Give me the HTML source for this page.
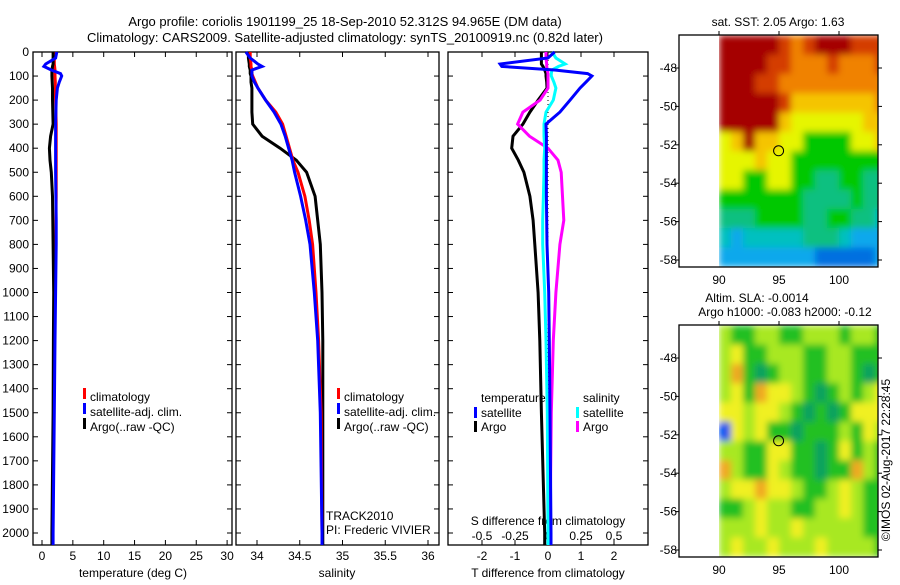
<!DOCTYPE html>
<html><head><meta charset="utf-8"><style>
body{margin:0;background:#fff}
svg{font-family:"Liberation Sans",sans-serif;font-size:12px}
</style></head><body>
<svg id="fig" width="900" height="580" viewBox="0 0 900 580">
<defs>
<filter id="blur1" filterUnits="userSpaceOnUse" x="719" y="35" width="159" height="232"><feGaussianBlur stdDeviation="3.5" edgeMode="duplicate"/></filter>
<filter id="blur2" filterUnits="userSpaceOnUse" x="719" y="325" width="159" height="232"><feGaussianBlur stdDeviation="3.5" edgeMode="duplicate"/></filter>
<clipPath id="clip1"><rect x="719" y="35" width="159" height="232"/></clipPath>
<clipPath id="clip2"><rect x="719" y="325" width="159" height="232"/></clipPath>
</defs>
<rect width="900" height="580" fill="#fff"/>
<text x="345" y="26" text-anchor="middle" font-size="13">Argo profile: coriolis 1901199_25 18-Sep-2010 52.312S 94.965E (DM data)</text>
<text x="345" y="42" text-anchor="middle" font-size="13">Climatology: CARS2009. Satellite-adjusted climatology: synTS_20100919.nc (0.82d later)</text>
<g id="maps"></g>
<g id="panels"></g>
</svg>
<script>
// ---- profile data ----
const depths = [0,25,50,60,75,90,100,125,150,200,250,300,350,400,450,500,600,700,800,1000,1200,1500,2000,2050];
const tempClim = [2.0,2.0,2.0,2.05,2.1,2.1,2.1,2.15,2.15,2.2,2.25,2.3,2.3,2.3,2.3,2.3,2.3,2.25,2.2,2.1,2.0,1.9,1.7,1.7];
const tempSat  = [2.4,2.2,0.6,0.3,1.5,3.0,3.2,2.8,2.5,2.3,2.25,2.2,2.2,2.2,2.2,2.2,2.25,2.3,2.3,2.2,2.1,2.0,1.8,1.8];
const tempArgo = [1.8,1.8,1.8,1.7,1.6,1.6,1.6,1.65,1.7,1.7,1.75,1.8,1.4,1.2,1.3,1.5,1.7,1.75,1.8,1.9,1.85,1.8,1.6,1.6];
const salClim = [33.92,33.92,33.93,33.93,33.94,33.94,33.95,33.98,34.01,34.1,34.22,34.3,34.34,34.38,34.42,34.48,34.56,34.61,34.65,34.69,34.72,34.75,34.76,34.76];
const salSat  = [33.87,33.92,34.01,34.06,33.94,33.94,33.94,33.97,34.01,34.1,34.2,34.28,34.33,34.37,34.41,34.44,34.51,34.57,34.62,34.67,34.71,34.74,34.76,34.76];
const salArgo = [33.9,33.9,33.91,33.91,33.92,33.92,33.93,33.93,33.94,33.94,33.94,33.95,34.06,34.27,34.46,34.58,34.68,34.71,34.74,34.76,34.77,34.77,34.77,34.77];
const dTsat  = [0.2,0,-1.45,-1.4,0.2,1.2,1.33,1.15,0.97,0.67,0.36,-0.06,-0.05,-0.05,-0.05,-0.05,-0.05,-0.04,-0.03,0.02,0.04,0.06,0.09,0.09];
const dTargo = [-0.2,-0.2,-0.2,-0.15,-0.1,-0.06,-0.06,-0.04,-0.03,-0.3,-0.55,-0.76,-1.06,-1.1,-0.9,-0.73,-0.55,-0.45,-0.4,-0.3,-0.25,-0.2,-0.1,-0.1];
const dSsat  = [0.03,0.06,0.13,0.08,0.03,0.025,0.025,0.045,0.06,0.04,-0.015,-0.03,-0.03,-0.025,-0.03,-0.03,-0.035,-0.04,-0.04,-0.025,-0.015,-0.005,0,0];
const dSargo = [-0.015,-0.015,-0.01,-0.01,-0.005,0,0,0,0,-0.06,-0.19,-0.23,-0.14,0,0.076,0.1,0.11,0.12,0.09,0.06,0.04,0.025,0.015,0.015];
const depthTicks = [0,100,200,300,400,500,600,700,800,900,1000,1100,1200,1300,1400,1500,1600,1700,1800,1900,2000];
const tempTicks = [0,5,10,15,20,25,30];
const salTicks = [34,34.5,35,35.5,36];
const salTickLabels = ["34","34.5","35","35.5","36"];
const dTTicks = [-2,-1,0,1,2];
const dSTicks = [-0.5,-0.25,0,0.25,0.5];
const dSTickLabels = ["-0.5","-0.25","0","0.25","0.5"];

// ---- map data ----
const sstGrid = [
"00000121000111","00001122212221","00011222222222","00000133333332",
"00000344444433","43033445555443","44434455555555","44554455665566",
"55555556666566","66655556655667","78777776667888","88888888999998"];
const sstColors = ["#a50000","#d43c00","#f08200","#f5c400","#e6f500","#00c800","#10c080","#00c0c0","#10a8ec","#0070e0"];
const slaGrid = [
"10011001110110","12001110011000","13040110011040","12032210401012",
"22122104040222","52120040001021","11002200402010","31002100400310",
"12232210012100","00121100112100","11121121111100","12112111211110"];
const slaColors = ["#20c020","#a8e820","#f0f020","#f0a820","#10a060","#0050f0"];
const lonTicks = [90,95,100];
const latTicks = [48,50,52,54,56,58];

const NS="http://www.w3.org/2000/svg";
function el(tag, attrs, parent){const e=document.createElementNS(NS,tag);for(const k in attrs)e.setAttribute(k,attrs[k]);parent.appendChild(e);return e;}
const panels=document.getElementById('panels');
const yTop=52,yBot=545;
const yD=d=>yTop+d*0.2405;

function frame(x0,x1,name){
  const g=el('g',{},panels);
  
  
  el('rect',{x:x0,y:yTop,width:x1-x0,height:yBot-yTop,fill:'none',stroke:'#000','stroke-width':1.3},g);
  depthTicks.forEach(d=>{
    el('line',{x1:x0,x2:x0+5,y1:yD(d),y2:yD(d),stroke:'#000'},g);
    el('line',{x1:x1,x2:x1-5,y1:yD(d),y2:yD(d),stroke:'#000'},g);
  });
  return g;
}
function series(g,xs,fx,color,name){
  const p=depths.map((d,i)=>fx(xs[i]).toFixed(1)+','+yD(d).toFixed(1)).join(' ');
  const l=el('polyline',{points:p,fill:'none',stroke:color,'stroke-width':3},g);
  
  
}
function xticks(g,ticks,labels,fx,y){
  ticks.forEach((t,i)=>{
    el('line',{x1:fx(t),x2:fx(t),y1:yBot,y2:yBot-5,stroke:'#000'},g);
    el('line',{x1:fx(t),x2:fx(t),y1:yTop,y2:yTop+5,stroke:'#000'},g);
    const tx=el('text',{x:fx(t),y:y,'text-anchor':'middle'},g);tx.textContent=labels[i];
  });
}
function txt(g,x,y,s,name,anchor){const t=el('text',{x:x,y:y,'text-anchor':anchor||'start'},g);t.textContent=s;return t;}
function legend(g,x,items){
  items.forEach((it,i)=>{
    el('rect',{x:x,y:392+i*15-4,width:3,height:11,fill:it[1]},g);
    txt(g,x+7,398+i*15+3,it[0],'legend-entry');
  });
}

// Panel 1: temperature
const fT=v=>42+v*6.17;
const g1=frame(33,232,'temperature-panel');
depthTicks.forEach(d=>{const t=el('text',{x:29,y:yD(d)+4,'text-anchor':'end'},g1);t.textContent=d;});
xticks(g1,tempTicks,tempTicks.map(String),fT,560);
txt(g1,133,577,'temperature (deg C)','x-axis-title-temperature','middle');
series(g1,tempClim,fT,'#f00','temp-climatology-line');
series(g1,tempArgo,fT,'#000','temp-argo-line');
series(g1,tempSat,fT,'#00f','temp-satellite-line');
legend(g1,83,[['climatology','#f00'],['satellite-adj. clim.','#00f'],['Argo(..raw -QC)','#000']]);

// Panel 2: salinity
const fS=v=>257+(v-34)*85.5;
const g2=frame(236,439,'salinity-panel');
xticks(g2,salTicks,salTickLabels,fS,560);
txt(g2,337,577,'salinity','x-axis-title-salinity','middle');
series(g2,salArgo,fS,'#000','sal-argo-line');
series(g2,salClim,fS,'#f00','sal-climatology-line');
series(g2,salSat,fS,'#00f','sal-satellite-line');
legend(g2,337,[['climatology','#f00'],['satellite-adj. clim.','#00f'],['Argo(..raw -QC)','#000']]);
txt(g2,326,520,'TRACK2010','track-label');
txt(g2,326,534,'PI: Frederic VIVIER','pi-label');

// Panel 3: differences
const fdT=v=>548+v*33;
const fdS=v=>548+v*132;
const g3=frame(448,648,'difference-panel');
el('line',{x1:548,x2:548,y1:yTop,y2:yBot,stroke:'#000','stroke-dasharray':'1,3'},g3);
xticks(g3,dTTicks,dTTicks.map(String),fdT,560);
dSTicks.forEach((t,i)=>{const tx=el('text',{x:fdS(t),y:540,'text-anchor':'middle'},g3);tx.textContent=dSTickLabels[i];});
txt(g3,548,525,'S difference from climatology','s-axis-title','middle');
txt(g3,548,577,'T difference from climatology','t-axis-title','middle');
series(g3,dTargo,fdT,'#000','dT-argo-line');
series(g3,dSargo,fdS,'#f0f','dS-argo-line');
series(g3,dSsat,fdS,'#0ff','dS-satellite-line');
series(g3,dTsat,fdT,'#00f','dT-satellite-line');
txt(g3,481,402,'temperature','legend-temperature-heading');
txt(g3,583,402,'salinity','legend-salinity-heading');
[['satellite','#00f',474,417],['Argo','#000',474,431],['satellite','#0ff',576,417],['Argo','#f0f',576,431]].forEach(it=>{
  el('rect',{x:it[2],y:it[3]-10,width:3,height:11,fill:it[1]},g3);
  txt(g3,it[2]+7,it[3],it[0],'legend-entry');
});

// Maps
const maps=document.getElementById('maps');
const fLon=v=>719+(v-90)*12;
const fLat=v=>68+(v-48)*19.2;
function map(y0,grid,colors,name,idx){
  const off=y0-35;
  const g=el('g',{},maps);
  
  
  const cg=el('g',{'clip-path':'url(#clip'+idx+')'},g);
  const img=el('g',{filter:'url(#blur'+idx+')'},cg);
  const rows=grid.length;
  grid.forEach((row,r)=>{
    for(let c=0;c<row.length;c++){
      const la0=46.3+r*(58.35-46.3)/rows, la1=46.3+(r+1)*(58.35-46.3)/rows;
      const x0=fLon(90+c), x1=fLon(91+c);
      el('rect',{x:x0,y:fLat(la0)+off,width:x1-x0+0.5,height:fLat(la1)-fLat(la0)+0.5,fill:colors[+row[c]]},img);
    }
  });
  el('rect',{x:679,y:y0,width:199,height:232,fill:'none',stroke:'#000','stroke-width':1.3},g);
  lonTicks.forEach(t=>{
    el('line',{x1:fLon(t),x2:fLon(t),y1:y0,y2:y0-4,stroke:'#000'},g);
    const tx=el('text',{x:fLon(t),y:y0+232+17,'text-anchor':'middle'},g);tx.textContent=t;
  });
  latTicks.forEach(t=>{
    el('line',{x1:878,x2:882,y1:fLat(t)+off,y2:fLat(t)+off,stroke:'#000'},g);
    el('line',{x1:679,x2:675,y1:fLat(t)+off,y2:fLat(t)+off,stroke:'#000'},g);
    const tx=el('text',{x:677,y:fLat(t)+off+4,'text-anchor':'end'},g);tx.textContent='-'+t;
  });
  el('circle',{cx:fLon(94.965),cy:fLat(52.312)+off,r:5,fill:'none',stroke:'#000'},g);
  return g;
}
const m1=map(35,sstGrid,sstColors,'sst-map',1);
txt(m1,778,26,'sat. SST: 2.05 Argo: 1.63','sst-map-title','middle');
const m2=map(325,slaGrid,slaColors,'sla-map',2);
txt(m2,757,302,'Altim. SLA: -0.0014','sla-map-title','middle');
txt(m2,785,316,'Argo h1000: -0.083 h2000: -0.12','sla-map-subtitle','middle');
const cr=txt(m2,0,0,'©IMOS 02-Aug-2017 22:28:45','copyright-label','middle');
cr.setAttribute('transform','translate(890,460) rotate(-90)');
</script>
</body></html>
